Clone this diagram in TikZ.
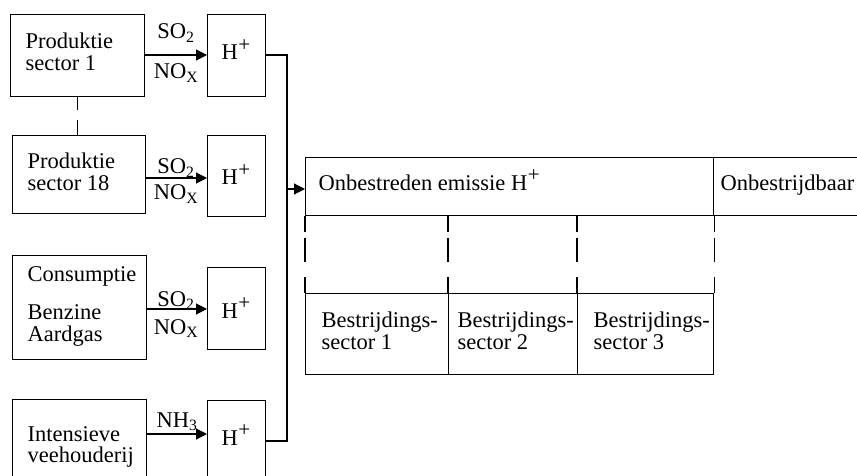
\documentclass[tikz,border=0pt]{standalone}
\usepackage{fontspec}
\setmainfont{Liberation Serif}
\usetikzlibrary{arrows.meta}
\newcommand\hplus{H\kern0.5pt\raisebox{0.36em}{\fontsize{21}{21}\selectfont +}}
\begin{document}
\begin{tikzpicture}[x=1pt,y=-1pt,
  line width=1.2pt,
  every node/.style={font=\fontsize{22.5}{22}\selectfont, inner sep=0pt},
  box/.style={draw, anchor=north west, inner sep=0pt},
  txt/.style={align=left},
  arr/.style={-{Triangle[length=11pt,width=11pt]}},
  vdash/.style={dash pattern=on 16pt off 6pt on 24pt off 15pt on 40pt}]
\useasboundingbox (0,0) rectangle (857,476);
\clip (0,0) rectangle (857,476);

% left boxes
\node[box, minimum width=134pt, minimum height=82pt] (p1) at (10,14) {};
\node[box, minimum width=133pt, minimum height=78pt] (p18) at (12,135) {};
\node[box, minimum width=134pt, minimum height=104pt] (cons) at (12,255) {};
\node[box, minimum width=134pt, minimum height=100pt] (inten) at (12,399) {};
\node[txt, anchor=west] (t1) at (25,51.5) {Produktie\\sector 1};
\node[txt, anchor=west] (t18) at (27,172) {Produktie\\sector 18};
\node[txt, anchor=west] (tc) at (27,306) {Consumptie\\[16pt]Benzine\\Aardgas};
\node[txt, anchor=west] (ti) at (27,447) {Intensieve\\[-1pt]veehouderij};

\draw[dash pattern=on 13pt off 10pt on 20pt] (p1.south) -- (p1.south |- p18.north);

% H+ boxes
\node[box, minimum width=58pt, minimum height=82pt] (h1) at (207,14) {};
\node[box, minimum width=58pt, minimum height=81pt] (h2) at (207,135) {};
\node[box, minimum width=58pt, minimum height=82pt] (h3) at (207,267) {};
\node[box, minimum width=58pt, minimum height=100pt] (h4) at (207,400) {};
\node[anchor=base] (ht1) at (236,60) {\hplus};
\node[anchor=base] (ht2) at (236,185) {\hplus};
\node[anchor=base] (ht3) at (236,318) {\hplus};
\node[anchor=base] (ht4) at (236,445) {\hplus};

% arrows into H+ boxes
\draw[arr] (p1.east |- 0,55) -- (h1.west |- 0,55);
\draw[arr] (p18.east |- 0,178) -- (h2.west |- 0,178);
\draw[arr] (cons.east |- 0,309) -- (h3.west |- 0,309);
\draw[arr] (inten.east |- 0,434) -- (h4.west |- 0,434);

\node[anchor=base] (so1) at (176,39) {SO\textsubscript{2}};
\node[anchor=base] (no1) at (176,79) {NO\textsubscript{X}};
\node[anchor=base] (so2) at (176,174) {SO\textsubscript{2}};
\node[anchor=base] (no2) at (176,200) {NO\textsubscript{X}};
\node[anchor=base] (so3) at (176,306) {SO\textsubscript{2}};
\node[anchor=base] (no3) at (176,334) {NO\textsubscript{X}};
\node[anchor=base] (nh4) at (177,427) {NH\textsubscript{3}};

% big table
\node[box, minimum width=408pt, minimum height=58pt] (emis) at (305,157) {};
\node[box, minimum width=170pt, minimum height=58pt] (onb) at (713,157) {};
\node[anchor=base west] (temis) at (318,190) {Onbestreden emissie \hplus};
\node[anchor=base west] (tonb) at (720,190) {Onbestrijdbaar};
\node[box, minimum width=143pt, minimum height=81pt] (b1) at (305,293) {};
\node[box, minimum width=129pt, minimum height=81pt] (b2) at (448,293) {};
\node[box, minimum width=136pt, minimum height=81pt] (b3) at (577,293) {};
\node[txt, anchor=west] (tb1) at (321,331) {Bestrijdings-\\sector 1};
\node[txt, anchor=west] (tb2) at (457,331) {Bestrijdings-\\sector 2};
\node[txt, anchor=west] (tb3) at (593,331) {Bestrijdings-\\sector 3};

\draw[vdash] (b1.north west |- emis.south) -- (b1.north west);
\draw[vdash] (b2.north west |- emis.south) -- (b2.north west);
\draw[vdash] (b3.north west |- emis.south) -- (b3.north west);
\draw[vdash] (b3.north east |- emis.south) -- (b3.north east);

% collector
\coordinate (ctop) at (287,55);
\coordinate (cbot) at (287,441);
\coordinate (cmid) at (287,189);
\draw (h1.east |- ctop) -- (ctop) -- (cbot) -- (h4.east |- cbot);
\draw[arr] (cmid) -- (emis.west |- cmid);
\end{tikzpicture}
\end{document}
